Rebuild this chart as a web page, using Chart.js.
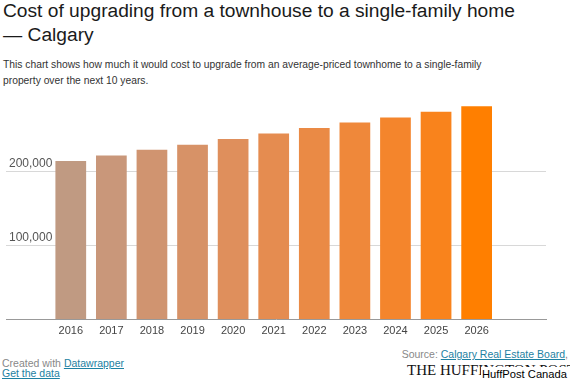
<!DOCTYPE html>
<html lang="en">
<head>
<meta charset="UTF-8">
<title>Cost of upgrading - Calgary</title>
<script src="https://cdn.jsdelivr.net/npm/chart.js@4.4.0/dist/chart.umd.min.js"></script>
<style>
    body { margin: 0; width: 570px; height: 380px; position: relative; overflow: hidden; background: #fff; font-family: "Liberation Sans", Arial, sans-serif; }
    #title { position: absolute; left: 3px; top: -1px; font-size: 19.2px; line-height: 23.5px; color: #1a1a1a; margin: 0; font-weight: normal; }
    #intro { position: absolute; left: 3px; top: 57px; font-size: 10.3px; line-height: 16px; color: #333; margin: 0; }
    #chartBox { position: absolute; left: 0; top: 90px; }
    .credit { position: absolute; left: 2px; font-size: 10.5px; color: #888; white-space: nowrap; }
    .credit a, #source a { color: #1d81a2; text-decoration: underline; }
    #source { position: absolute; right: 2px; top: 348px; font-size: 10.5px; color: #888; white-space: nowrap; }
    #huff { position: absolute; left: 407px; top: 362px; font-family: "Liberation Serif", "DejaVu Serif", serif; font-size: 15px; line-height: 17px; color: #111; white-space: nowrap; }
    #huffCa { position: absolute; left: 481px; top: 367px; width: 89px; height: 13px; background: #fff; font-size: 11.2px; color: #000; padding-left: 1px; line-height: 14px; white-space: nowrap; overflow: hidden; }
</style>
</head>
<body>
<h1 id="title">Cost of upgrading from a townhouse to a single-family home<br>— Calgary</h1>
<p id="intro">This chart shows how much it would cost to upgrade from an average-priced townhome to a single-family<br>property over the next 10 years.</p>
<div id="chartBox"><canvas id="myChart" width="570" height="255"></canvas></div>
<div class="credit" style="top:357px">Created with <a>Datawrapper</a></div>
<div class="credit" style="top:367px"><a>Get the data</a></div>
<div id="source">Source: <a>Calgary Real Estate Board</a>,</div>
<div id="huff">THE HUFFINGTON POST</div>
<div id="huffCa">HuffPost Canada</div>

<script>
// dati
var years = [2016, 2017, 2018, 2019, 2020, 2021, 2022, 2023, 2024, 2025, 2026];
var costs = [214000, 221500, 229000, 236000, 243500, 251000, 258500, 266000, 272500, 280500, 288000];
var barColors = ['#c09a82', '#c9977a', '#d09470', '#d79267', '#df8f5c', '#e58c50', '#ea8a45', '#ef883a', '#f4852c', '#f9831c', '#ff7f00'];
var yTicks = [100000, 200000];

var points = [];
for (var i = 0; i < years.length; i++) {
    points.push({x: years[i], y: costs[i]});
}

var myChart = new Chart(document.getElementById('myChart'), {
    type: 'bar',
    data: {
        datasets: [{
            data: points,
            backgroundColor: barColors,
            borderWidth: 0,
            categoryPercentage: 1,
            barPercentage: 0.757
        }]
    },
    options: {
        responsive: false,
        animation: false,
        layout: { padding: { top: 9.6, right: 24, bottom: 2.3, left: 0 } },
        plugins: { legend: { display: false }, tooltip: { enabled: false } },
        scales: {
            x: {
                type: 'linear',
                offset: false,
                min: 2014.404,
                max: 2027.709,
                afterBuildTicks: function (scale) {
                    scale.ticks = years.map(function (y) { return {value: y}; });
                },
                ticks: {
                    autoSkip: false,
                    maxRotation: 0,
                    padding: 5,
                    color: '#444',
                    font: { family: 'Liberation Sans', size: 11 },
                    callback: function (v) { return String(v); }
                },
                grid: { display: false, drawTicks: false, offset: false },
                border: { display: true, color: '#999', width: 1 }
            },
            y: {
                min: 0,
                max: 296000,
                afterBuildTicks: function (scale) {
                    scale.ticks = [{value: 0}].concat(yTicks.map(function (v) { return {value: v}; }));
                },
                ticks: {
                    mirror: true,
                    padding: 3,
                    labelOffset: -8,
                    color: '#555',
                    font: { family: 'Liberation Sans', size: 12 },
                    callback: function (v) { return v === 0 ? '' : v.toLocaleString('en-US'); }
                },
                grid: {
                    drawTicks: false,
                    color: function (ctx) { return ctx.tick && ctx.tick.value === 0 ? 'rgba(0,0,0,0)' : '#d8d8d8'; }
                },
                border: { display: false }
            }
        }
    }
});
</script>
</body>
</html>
